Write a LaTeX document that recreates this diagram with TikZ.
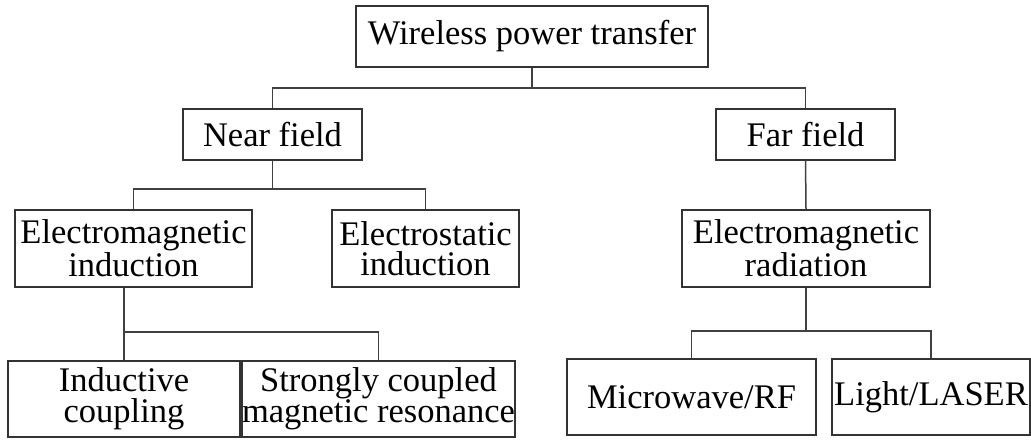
\documentclass[tikz,border=0pt]{standalone}
\usepackage{fontspec}
\setmainfont{Liberation Serif}
\usetikzlibrary{positioning}

\begin{document}
\begin{tikzpicture}[
  x=0.5pt, y=-0.5pt,
  box/.style={rectangle, draw=black!80, line width=0.8pt, inner sep=0pt,
    align=center, font=\fontsize{17.25}{15.3}\selectfont},
  link/.style={draw=black!75, line width=0.75pt}
]
\useasboundingbox (0,0) rectangle (1031,439);

% levels
\node[box, minimum width=176pt, minimum height=30.5pt] (wpt) at (532,36.5) {Wireless power transfer};
\node[box, minimum width=89.5pt, minimum height=25.5pt] (near) at (272.5,134.5) {Near field};
\node[box, minimum width=89.5pt, minimum height=25.5pt] (far) at (805.5,134.5) {Far field};
\node[box, minimum width=118.5pt, minimum height=38.5pt] (emind) at (133.5,248.5) {Electromagnetic\\induction};
\node[box, minimum width=93.5pt, minimum height=38.5pt] (esind) at (425.5,248.5) {Electrostatic\\induction};
\node[box, minimum width=124pt, minimum height=38.5pt] (emrad) at (806,248.5) {Electromagnetic\\radiation};
\node[box, minimum width=116pt, minimum height=38pt] (induct) at (124,399) {Inductive\\coupling};
\node[box, minimum width=131.5pt, minimum height=38pt] (strong) at (378.5,399) {Strongly coupled\\magnetic resonance};
\node[box, minimum width=124.5pt, minimum height=38pt] (micro) at (691.5,397) {Microwave/RF};
\node[box, minimum width=99pt, minimum height=38pt] (light) at (931,397) {Light/LASER};

% junctions
\coordinate (j0) at (532,88);
\coordinate (j1) at (272.5,189);
\coordinate (j2) at (124,332);
\coordinate (j3) at (806,331);

\draw[link] (wpt.south) -- (j0) -| (near.north);
\draw[link] (j0) -| (far.north);
\draw[link] (near.south) -- (j1) -| (emind.north);
\draw[link] (j1) -| (esind.north);
\draw[link] (far.south) -- (emrad.north);
\draw[link] (emind.south -| induct.north) -- (induct.north);
\draw[link] (j2) -| (strong.north);
\draw[link] (emrad.south) -- (j3) -| (micro.north);
\draw[link] (j3) -| (light.north);
\end{tikzpicture}
\end{document}
